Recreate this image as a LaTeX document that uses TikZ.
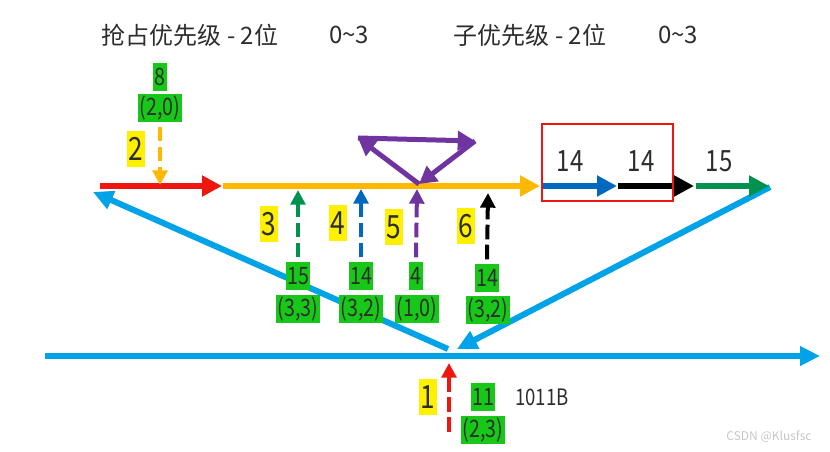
\documentclass[tikz,border=0pt]{standalone}
\usepackage{fontspec}
\setmainfont{Noto Sans CJK SC}
\newfontfamily\numfont{Noto Sans CJK SC}[FakeStretch=0.82]
\usepackage{tikz}
\usetikzlibrary{arrows.meta}
\definecolor{cred}{RGB}{240,22,16}
\definecolor{corange}{RGB}{255,184,0}
\definecolor{cblue}{RGB}{0,104,190}
\definecolor{cgreen}{RGB}{0,146,78}
\definecolor{cpurple}{RGB}{112,52,160}
\definecolor{ccyan}{RGB}{0,162,232}
\definecolor{hlyellow}{RGB}{255,240,0}
\definecolor{hlgreen}{RGB}{24,200,24}
\definecolor{ink}{RGB}{45,45,45}
\tikzset{
  ar/.style={line width=4.5pt,-{Triangle[length=15pt,width=15pt]}},
  da/.style={line width=3pt,dash pattern=on 11pt off 4pt,-{Triangle[length=11pt,width=11pt]}},
  sk/.style={line width=4.5pt,ccyan,-{Triangle[length=15pt,width=14pt]}},
  pu/.style={line width=3.75pt,cpurple,-{Triangle[length=13pt,width=14pt]}},
  yl/.style={fill=hlyellow,text=ink,inner xsep=1pt,inner ysep=0pt,minimum height=27pt,font=\numfont\fontsize{24}{24}\selectfont},
  gn/.style={fill=hlgreen,text=ink,inner xsep=1pt,inner ysep=0pt,minimum height=21.5pt,font=\numfont\fontsize{18}{18}\selectfont},
  big/.style={text=ink,font=\numfont\fontsize{22}{22}\selectfont},
  ttl/.style={text=ink,font=\fontsize{18}{18}\selectfont}
}

\begin{document}
\begin{tikzpicture}[x=0.75pt,y=-0.75pt]
\useasboundingbox (0,0) rectangle (830,452);
% titles
\node[ttl] (t1) at (190,35) {抢占优先级 - 2位};
\node[ttl] (r1) at (349,35) {0\char`~3};
\node[ttl] (t2) at (530,35) {子优先级 - 2位};
\node[ttl] (r2) at (678,35) {0\char`~3};
% sky blue lines (behind the labels)
\coordinate (b0) at (45,356); \coordinate (b1) at (820,356);
\coordinate (l0) at (448,349); \coordinate (l1) at (93,192);
\coordinate (k0) at (770,187); \coordinate (k1) at (457,349);
\draw[sk] (b0) -- (b1);
\draw[sk] (l0) -- (l1);
\draw[sk] (k0) -- (k1);
% main line
\coordinate (m0) at (100,186); \coordinate (m1) at (222,186);
\coordinate (m2) at (223,186); \coordinate (m3) at (540,186);
\coordinate (m4) at (543,186); \coordinate (m5) at (617,186);
\coordinate (m6) at (618,186); \coordinate (m7) at (694,186);
\coordinate (m8) at (696,186); \coordinate (m9) at (769,186);
\draw[ar,cred] (m0) -- (m1);
\draw[ar,corange] (m2) -- (m3);
\draw[ar,cblue] (m4) -- (m5);
\draw[ar,black] (m6) -- (m7);
\draw[ar,cgreen] (m8) -- (m9);
\draw[cred,line width=2pt] (542,124) rectangle (673,201);
\node[big] (q1) at (570,161) {14};
\node[big] (q2) at (641,161) {14};
\node[big] (q3) at (719,161) {15};
% step 2
\node[gn] (g8) at (160,77) {8};
\node[gn] (c20) at (160,108) {(2,0)};
\node[yl] (s2) at (136,149) {2};
\coordinate (p2) at (160,185);
\draw[da,corange] ([yshift=-3pt]c20.south) -- (p2);
% purple loop
\coordinate (pa) at (419,184); \coordinate (pb) at (358,138); \coordinate (pc) at (475,141);
\draw[pu] (pa) -- (pb);
\draw[pu] (pb) -- (pc);
\draw[pu] (pc) -- (pa);
% steps 3-6
\node[yl] (s3) at (269,224) {3};
\node[yl] (s4) at (338,223) {4};
\node[yl] (s5) at (394,227) {5};
\node[yl] (s6) at (466,226) {6};
\node[gn] (g15) at (298,276) {15};
\node[gn] (c33) at (298,309) {(3,3)};
\node[gn] (g14a) at (361,276) {14};
\node[gn] (c32a) at (361,309) {(3,2)};
\node[gn] (g4) at (416,276) {4};
\node[gn] (c10) at (417,309) {(1,0)};
\node[gn] (g14b) at (487,278) {14};
\node[gn] (c32b) at (488,310) {(3,2)};
\coordinate (p3) at (298,190); \coordinate (p4) at (361,189);
\coordinate (p5) at (417,189); \coordinate (p6) at (488,193);
\draw[da,cgreen] ([yshift=3pt]g15.north) -- (p3);
\draw[da,cblue] ([yshift=3pt]g14a.north) -- (p4);
\draw[da,cpurple] ([yshift=3pt]g4.north) -- (p5);
\draw[da,black] ([yshift=3pt]g14b.north) -- (p6);
% step 1
\node[yl] (s1) at (428,397) {1};
\node[gn] (g11) at (483,397) {11};
\node[gn] (c23) at (483,430) {(2,3)};
\node[text=ink,font=\numfont\fontsize{17}{17}\selectfont] (bin) at (542,397) {1011B};
\coordinate (e0) at (449,432); \coordinate (e1) at (449,363);
\draw[da,cred] (e0) -- (e1);
\node[text=gray!45,font=\fontsize{9}{9}\selectfont] (wm) at (769,437) {CSDN @Klusfsc};
\end{tikzpicture}
\end{document}
